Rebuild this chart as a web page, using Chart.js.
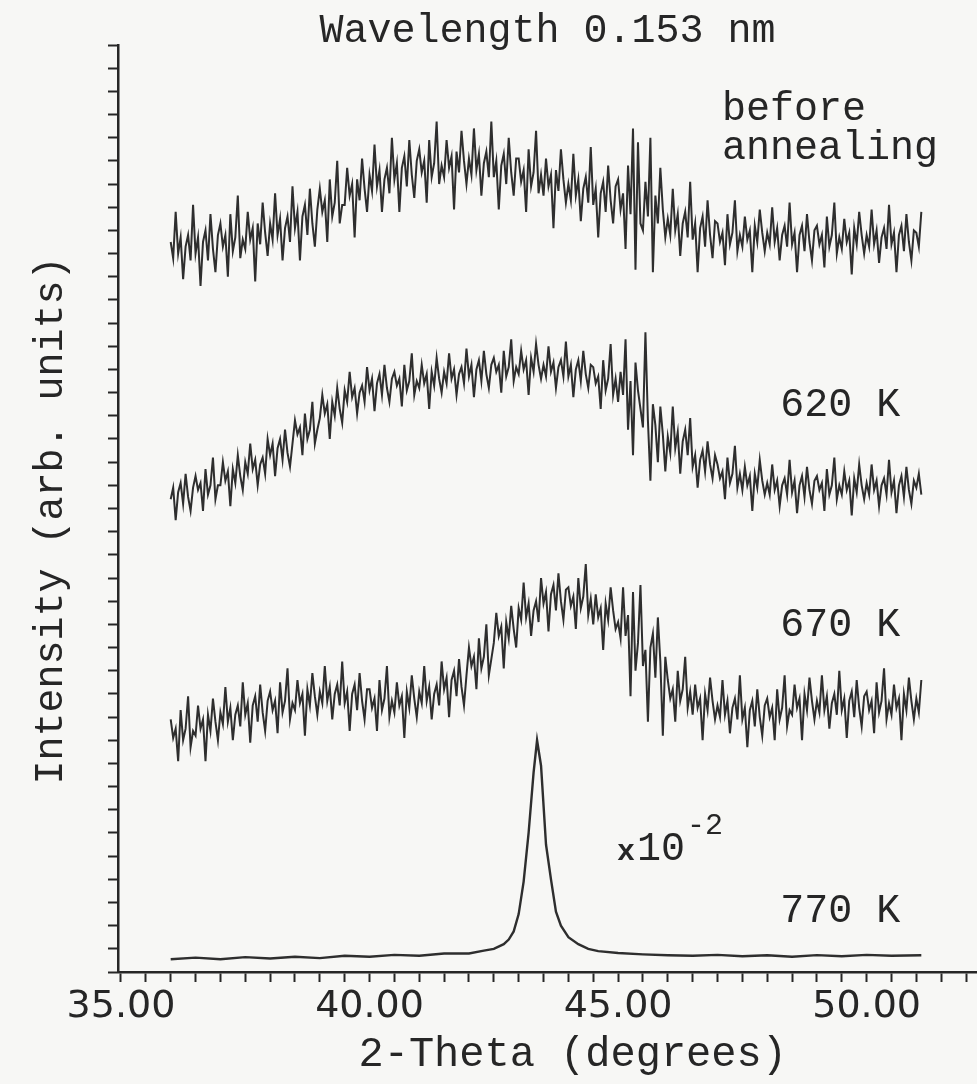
<!DOCTYPE html>
<html>
<head>
<meta charset="utf-8">
<script src="https://cdn.jsdelivr.net/npm/chart.js@4.4.1/dist/chart.umd.min.js"></script>
<style>
  body { margin: 0; background: #f7f7f5; }
  #wrap { width: 977px; height: 1084px; }
</style>
</head>
<body>
<div id="wrap"><canvas id="xrd"></canvas></div>
<script>
// scan: 2-theta from 36.00 to 51.10 in 0.05 degree steps (303 points)
const thetaStart = 36.0;
const thetaStep = 0.05;

const beforeAnnealing = [
  31.5, 30.8, 32.8, 31.0, 31.7, 29.9, 31.3, 31.8, 30.7, 33.1,
  31.0, 31.7, 29.6, 31.5, 32.0, 30.7, 32.7, 31.2, 30.2, 31.8,
  32.3, 31.3, 31.8, 30.0, 32.7, 31.1, 31.7, 33.5, 30.8, 31.6,
  31.2, 32.8, 31.6, 32.1, 29.8, 32.3, 31.4, 33.2, 31.9, 30.9,
  32.3, 31.6, 33.6, 31.8, 32.5, 30.7, 32.1, 32.6, 31.5, 33.9,
  32.1, 32.8, 30.7, 32.6, 33.1, 31.8, 33.8, 32.3, 31.3, 32.9,
  33.8, 32.8, 33.3, 31.5, 34.2, 32.6, 33.2, 35.0, 32.3, 33.1,
  33.1, 34.7, 33.5, 34.0, 31.7, 34.2, 33.3, 35.1, 33.8, 32.8,
  34.4, 33.7, 35.7, 33.9, 34.6, 32.8, 34.2, 34.7, 33.6, 36.0,
  34.2, 34.9, 32.8, 34.7, 35.2, 33.9, 35.9, 34.4, 33.4, 35.0,
  35.5, 34.5, 35.0, 33.2, 35.9, 34.3, 34.9, 36.7, 34.0, 34.8,
  34.3, 35.9, 34.7, 35.2, 32.9, 35.4, 34.5, 36.3, 35.0, 34.0,
  35.1, 34.4, 36.4, 34.6, 35.3, 33.5, 34.9, 35.4, 34.3, 36.7,
  34.3, 35.0, 32.9, 34.8, 35.3, 34.0, 36.0, 34.5, 33.5, 35.1,
  35.1, 34.1, 34.6, 32.8, 35.5, 33.9, 34.5, 36.3, 33.6, 34.4,
  33.5, 35.1, 33.9, 34.4, 32.1, 34.6, 33.7, 35.5, 34.2, 33.2,
  34.0, 33.3, 35.3, 33.5, 34.2, 32.4, 33.8, 34.3, 33.2, 35.6,
  33.1, 33.8, 31.7, 33.6, 34.1, 32.8, 34.8, 33.3, 32.3, 33.9,
  34.2, 32.9, 33.6, 31.2, 34.8, 32.7, 36.4, 30.3, 35.8, 32.3,
  32.0, 34.1, 32.6, 36.0, 30.2, 33.5, 32.3, 34.7, 32.9, 31.7,
  32.5, 31.8, 33.8, 32.0, 32.7, 30.9, 32.3, 32.8, 31.7, 34.1,
  31.6, 32.3, 30.2, 32.1, 32.6, 31.3, 33.3, 31.8, 30.8, 32.4,
  32.3, 31.5, 31.9, 30.5, 32.7, 31.4, 31.9, 33.3, 31.1, 31.8,
  31.3, 32.6, 31.6, 32.0, 30.2, 32.2, 31.5, 32.9, 31.9, 31.1,
  31.9, 31.4, 33.0, 31.5, 32.1, 30.7, 31.8, 32.2, 31.3, 33.2,
  31.4, 31.9, 30.2, 31.8, 32.2, 31.1, 32.7, 31.5, 30.7, 32.0,
  32.2, 31.4, 31.8, 30.4, 32.6, 31.3, 31.8, 33.2, 31.0, 31.7,
  31.2, 32.5, 31.5, 31.9, 30.1, 32.1, 31.4, 32.8, 31.8, 31.0,
  31.8, 31.3, 32.9, 31.4, 32.0, 30.6, 31.7, 32.1, 31.2, 33.1,
  31.4, 31.9, 30.2, 31.8, 32.2, 31.1, 32.7, 31.5, 30.7, 32.0,
  31.9, 31.3, 32.8
];

const anneal620 = [
  20.4, 20.9, 19.5, 20.7, 21.1, 20.2, 21.5, 20.5, 19.9, 20.9,
  21.4, 20.8, 21.1, 19.9, 21.7, 20.6, 21.0, 22.2, 20.4, 21.0,
  21.0, 22.0, 21.2, 21.6, 20.1, 21.7, 21.1, 22.3, 21.4, 20.8,
  22.0, 21.5, 22.8, 21.7, 22.1, 21.0, 21.9, 22.2, 21.5, 23.0,
  22.3, 22.8, 21.4, 22.6, 23.0, 22.1, 23.4, 22.4, 21.8, 22.8,
  23.8, 23.2, 23.5, 22.3, 24.1, 23.0, 23.4, 24.6, 22.8, 23.4,
  23.9, 24.9, 24.1, 24.5, 23.0, 24.6, 24.0, 25.2, 24.3, 23.7,
  25.1, 24.6, 25.9, 24.8, 25.2, 24.1, 25.0, 25.3, 24.6, 26.1,
  25.1, 25.6, 24.2, 25.4, 25.8, 24.9, 26.2, 25.2, 24.6, 25.6,
  25.9, 25.3, 25.6, 24.4, 26.2, 25.1, 25.5, 26.7, 24.9, 25.5,
  25.2, 26.2, 25.4, 25.8, 24.3, 25.9, 25.3, 26.5, 25.6, 25.0,
  25.9, 25.4, 26.7, 25.6, 26.0, 24.9, 25.8, 26.1, 25.4, 26.9,
  25.7, 26.2, 24.8, 26.0, 26.4, 25.5, 26.8, 25.8, 25.2, 26.2,
  26.5, 25.9, 26.2, 25.0, 26.8, 25.7, 26.1, 27.3, 25.5, 26.1,
  25.8, 26.8, 26.0, 26.4, 24.9, 26.5, 25.9, 27.1, 26.2, 25.6,
  26.2, 25.7, 27.0, 25.9, 26.3, 25.2, 26.1, 26.4, 25.7, 27.2,
  25.7, 26.2, 24.8, 26.0, 26.4, 25.5, 26.8, 25.8, 25.2, 26.2,
  26.1, 25.4, 25.7, 24.3, 26.4, 25.1, 25.6, 27.1, 24.9, 25.6,
  24.6, 25.9, 24.9, 27.3, 23.4, 25.5, 22.3, 26.3, 25.1, 24.3,
  23.5, 27.6, 23.8, 21.2, 24.5, 23.6, 22.0, 24.4, 23.2, 21.6,
  23.1, 22.4, 24.4, 22.6, 23.3, 21.5, 22.9, 23.4, 22.3, 23.9,
  21.8, 22.3, 20.9, 22.1, 22.5, 21.6, 22.9, 21.9, 21.3, 22.3,
  21.9, 21.3, 21.6, 20.4, 22.2, 21.1, 21.5, 22.7, 20.9, 21.5,
  20.8, 21.8, 21.0, 21.4, 19.9, 21.5, 20.9, 22.1, 21.2, 20.6,
  21.1, 20.6, 21.9, 20.8, 21.2, 20.1, 21.0, 21.3, 20.6, 22.1,
  20.7, 21.2, 19.8, 21.0, 21.4, 20.5, 21.8, 20.8, 20.2, 21.2,
  21.4, 20.8, 21.1, 19.9, 21.7, 20.6, 21.0, 22.2, 20.4, 21.0,
  20.6, 21.6, 20.8, 21.2, 19.7, 21.3, 20.7, 21.9, 21.0, 20.4,
  21.1, 20.6, 21.9, 20.8, 21.2, 20.1, 21.0, 21.3, 20.6, 22.1,
  20.7, 21.2, 19.8, 21.0, 21.4, 20.5, 21.8, 20.8, 20.2, 21.2,
  20.9, 21.5, 20.6
];

const anneal670 = [
  10.9, 10.1, 10.5, 9.1, 11.3, 10.0, 10.5, 11.9, 9.7, 10.4,
  10.2, 11.5, 10.5, 10.9, 9.1, 11.1, 10.4, 11.8, 10.8, 10.0,
  11.2, 10.7, 12.3, 10.8, 11.4, 10.0, 11.1, 11.5, 10.6, 12.5,
  11.1, 11.6, 9.9, 11.5, 11.9, 10.8, 12.4, 11.2, 10.4, 11.7,
  12.1, 11.3, 11.7, 10.3, 12.5, 11.2, 11.7, 13.1, 10.9, 11.6,
  11.3, 12.6, 11.6, 12.0, 10.2, 12.2, 11.5, 12.9, 11.9, 11.1,
  12.1, 11.6, 13.2, 11.7, 12.3, 10.9, 12.0, 12.4, 11.5, 13.4,
  11.6, 12.1, 10.4, 12.0, 12.4, 11.3, 12.9, 11.7, 10.9, 12.2,
  12.2, 11.4, 11.8, 10.4, 12.6, 11.3, 11.8, 13.2, 11.0, 11.7,
  11.2, 12.5, 11.5, 11.9, 10.1, 12.1, 11.4, 12.8, 11.8, 11.0,
  12.1, 11.6, 13.2, 11.7, 12.3, 10.9, 12.0, 12.4, 11.5, 13.4,
  12.2, 12.7, 11.0, 12.6, 13.0, 11.9, 13.5, 12.3, 11.5, 12.8,
  14.0, 13.2, 13.6, 12.2, 14.4, 13.1, 13.6, 15.0, 12.8, 13.5,
  14.2, 15.5, 14.5, 14.9, 13.1, 15.1, 14.4, 15.8, 14.8, 14.0,
  15.7, 15.2, 16.8, 15.3, 15.9, 14.5, 15.6, 16.0, 15.1, 17.0,
  15.9, 16.4, 14.7, 16.3, 16.7, 15.6, 17.2, 16.0, 15.2, 16.5,
  16.6, 15.8, 16.2, 14.8, 17.0, 15.7, 16.2, 17.6, 15.4, 16.1,
  15.0, 16.3, 15.3, 15.7, 13.9, 15.9, 15.2, 16.6, 15.6, 14.8,
  15.1, 14.4, 16.6, 14.5, 15.4, 11.9, 16.4, 13.0, 14.2, 16.7,
  13.2, 13.9, 10.8, 14.0, 14.6, 12.7, 15.3, 13.4, 10.2, 13.6,
  12.6, 11.8, 12.2, 10.8, 13.0, 11.7, 12.2, 13.6, 11.4, 12.1,
  11.1, 12.4, 11.4, 11.8, 10.0, 12.0, 11.3, 12.7, 11.7, 10.9,
  11.5, 11.0, 12.6, 11.1, 11.7, 10.3, 11.4, 11.8, 10.9, 12.8,
  10.9, 11.4, 9.7, 11.3, 11.7, 10.6, 12.2, 11.0, 10.2, 11.5,
  11.8, 11.0, 11.4, 10.0, 12.2, 10.9, 11.4, 12.8, 10.6, 11.3,
  11.1, 12.4, 11.4, 11.8, 10.0, 12.0, 11.3, 12.7, 11.7, 10.9,
  11.7, 11.2, 12.8, 11.3, 11.9, 10.5, 11.6, 12.0, 11.1, 13.0,
  11.3, 11.8, 10.1, 11.7, 12.1, 11.0, 12.6, 11.4, 10.6, 11.9,
  12.1, 11.3, 11.7, 10.3, 12.5, 11.2, 11.7, 13.1, 10.9, 11.6,
  11.1, 12.4, 11.4, 11.8, 10.0, 12.0, 11.3, 12.7, 11.7, 10.9,
  11.8, 11.2, 12.6
];

// 770 K is plotted x 10^-2, sampled more finely around the (111) peak
const theta770 = [
  36.0, 36.5, 37.0, 37.5, 38.0, 38.5, 39.0, 39.5, 40.0, 40.5,
  41.0, 41.5, 42.0, 42.3, 42.5, 42.7, 42.8, 42.9, 43.0, 43.1,
  43.2, 43.3, 43.37, 43.45, 43.55, 43.65, 43.75, 43.85, 44.0, 44.2,
  44.4, 44.6, 45.0, 45.5, 46.0, 46.5, 47.0, 47.5, 48.0, 48.5,
  49.0, 49.5, 50.0, 50.5, 51.1
];
const anneal770 = [
  0.55, 0.62, 0.55, 0.64, 0.58, 0.66, 0.6, 0.7, 0.66, 0.74,
  0.7, 0.8, 0.8, 0.92, 1.0, 1.2, 1.4, 1.75, 2.5, 3.9,
  6.0, 8.6, 10.0, 8.9, 5.5, 4.0, 2.6, 2.0, 1.5, 1.2,
  1.0, 0.9, 0.82, 0.76, 0.72, 0.7, 0.74, 0.68, 0.72, 0.66,
  0.73, 0.68, 0.74, 0.7, 0.72
];

const seriesNames = ['before annealing', '620 K', '670 K', '770 K'];

function scanPoints(values) {
  return values.map((v, i) => ({ x: thetaStart + i * thetaStep, y: v }));
}

const ink = '#262626';
const trace = '#2e2e2e';
const mono = '"Liberation Mono", "Courier New", monospace';

const curveLabels = {
  id: 'curveLabels',
  afterDatasetsDraw(chart) {
    const { ctx, scales: { x, y } } = chart;
    ctx.save();
    ctx.fillStyle = ink;
    ctx.textBaseline = 'alphabetic';
    ctx.textAlign = 'left';
    ctx.font = '40px ' + mono;
    const spots = [
      ['before', 47.09, 36.76],
      ['annealing', 47.09, 35.1],
      ['620 K', 48.26, 23.99],
      ['670 K', 48.26, 14.5],
      ['770 K', 48.26, 2.16]
    ];
    for (const [text, tx, ty] of spots) {
      ctx.fillText(text, x.getPixelForValue(tx), y.getPixelForValue(ty));
    }
    // scale factor note for the 770 K curve
    let px = x.getPixelForValue(44.98);
    const py = y.getPixelForValue(4.83);
    ctx.font = 'bold 30px ' + mono;
    ctx.fillText('x', px, py);
    px += ctx.measureText('x').width + 2;
    ctx.font = '40px ' + mono;
    ctx.fillText('10', px, py);
    px += ctx.measureText('10').width + 2;
    ctx.font = '30px ' + mono;
    ctx.fillText('-2', px, py - 26);
    ctx.restore();
  }
};

new Chart('xrd', {
  type: 'line',
  data: {
    datasets: [
      { label: seriesNames[0], data: scanPoints(beforeAnnealing), borderColor: trace, borderWidth: 2 },
      { label: seriesNames[1], data: scanPoints(anneal620), borderColor: trace, borderWidth: 2 },
      { label: seriesNames[2], data: scanPoints(anneal670), borderColor: trace, borderWidth: 2 },
      { label: seriesNames[3], data: theta770.map((t, i) => ({ x: t, y: anneal770[i] })), borderColor: trace, borderWidth: 2.4 }
    ]
  },
  options: {
    responsive: true,
    maintainAspectRatio: false,
    animation: false,
    layout: { padding: 0 },
    elements: {
      point: { radius: 0 },
      line: { tension: 0, fill: false }
    },
    plugins: {
      legend: { display: false },
      tooltip: { enabled: false },
      title: {
        display: true,
        text: 'Wavelength 0.153 nm',
        fullSize: false,
        color: ink,
        font: { family: mono, size: 40, weight: 'normal', lineHeight: 0.7 },
        padding: { top: 17, bottom: 0 }
      }
    },
    scales: {
      x: {
        type: 'linear',
        min: 34.94,
        max: 52.22,
        afterFit(s) { s.height = 112; },
        border: { display: true, color: ink, width: 2.5 },
        grid: { drawOnChartArea: false, drawTicks: true, tickLength: 10, tickWidth: 2, tickColor: ink },
        ticks: {
          stepSize: 0.5,
          includeBounds: false,
          autoSkip: false,
          maxRotation: 0,
          minRotation: 0,
          padding: 2,
          color: ink,
          font: { family: '"DejaVu Sans", sans-serif', size: 38 },
          callback: (v) => (v % 5 === 0 ? v.toFixed(2) : '')
        },
        title: {
          display: true,
          text: '  2-Theta (degrees)',
          color: ink,
          font: { family: mono, size: 42 },
          padding: { top: 0, bottom: 4 }
        }
      },
      y: {
        min: 0,
        max: 40,
        afterFit(s) { s.width = 118; },
        border: { display: true, color: ink, width: 2.5 },
        grid: { drawOnChartArea: false, drawTicks: true, tickLength: 10, tickWidth: 2, tickColor: ink },
        ticks: { display: false, stepSize: 1 },
        title: {
          display: true,
          text: 'Intensity (arb. units) ',
          color: ink,
          font: { family: mono, size: 40 },
          padding: { top: 27, bottom: 0 }
        }
      }
    }
  },
  plugins: [curveLabels]
});
</script>
</body>
</html>
